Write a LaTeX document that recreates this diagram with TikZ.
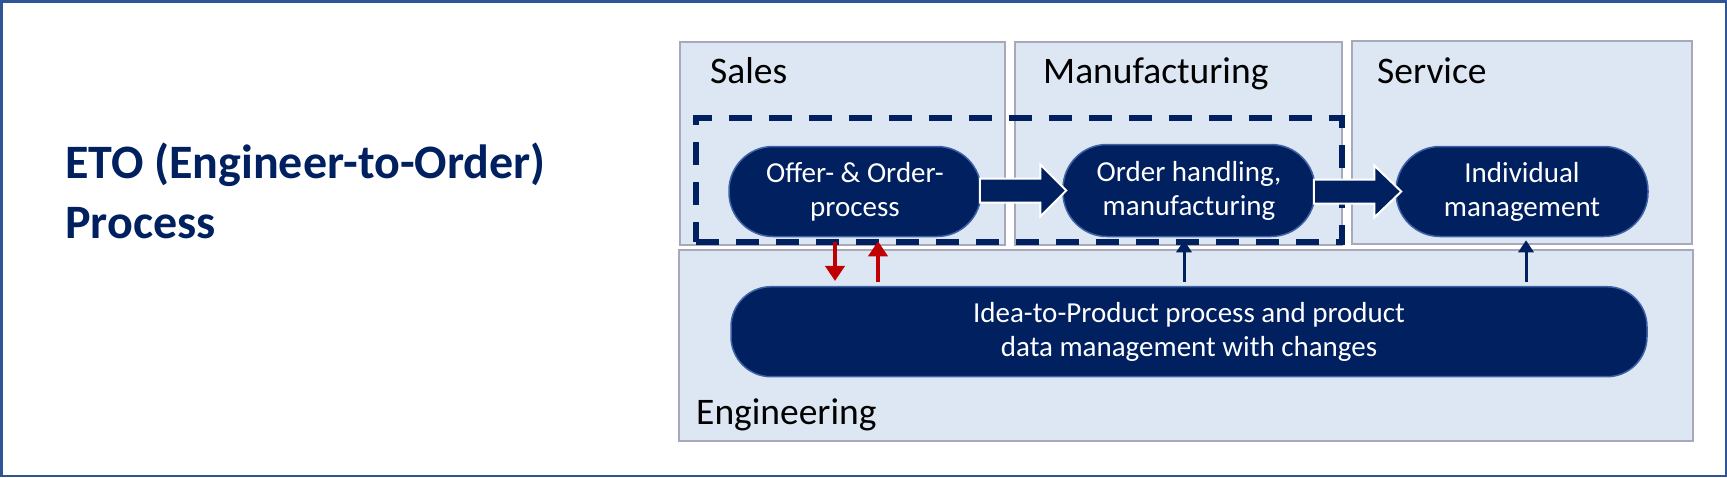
\documentclass[tikz,border=0pt]{standalone}
\usepackage{fontspec}
\setmainfont{Carlito}
\usepackage{tikz}
\usetikzlibrary{arrows.meta}
\usetikzlibrary{calc}
\definecolor{navy}{HTML}{002060}
\definecolor{framecol}{HTML}{2F5597}
\definecolor{lanefill}{HTML}{DDE7F4}
\definecolor{lanegray}{HTML}{A8A8BC}
\definecolor{rimblue}{HTML}{3F62A6}
\definecolor{redarr}{HTML}{C00000}
\begin{document}
\begin{tikzpicture}[x=1pt,y=1pt,
  lane/.style={draw=lanegray,line width=2pt,fill=lanefill,minimum height=203,inner sep=0},
  lanelabel/.style={font=\fontsize{37.5}{44}\selectfont,anchor=base west,inner sep=0},
  proc/.style={draw=rimblue,line width=1.5pt,fill=navy,text=white,rounded corners=44,minimum width=252,minimum height=90,align=center,font=\fontsize{29}{34}\selectfont,inner sep=0},
  dashbox/.style={draw=navy,line width=6pt,dash pattern=on 23pt off 17pt,minimum width=646,minimum height=124,inner sep=0},
  bigarrow/.style={fill=navy,draw=white,line width=2pt},
  feed/.style={draw=navy,line width=3pt,-{Triangle[length=12pt,width=15pt]}},
  redfeed/.style={draw=redarr,line width=4pt,-{Triangle[length=15pt,width=19pt]}}]
  \useasboundingbox (0,0) rectangle (1727,-477);
  \draw[framecol,line width=2.5pt] (1.25,-1.25) rectangle (1725.75,-475.75);

  \node (title) [anchor=base west,align=left,inner sep=0,text=navy,font=\bfseries\fontsize{48}{60}\selectfont] at (65,-238) {ETO (Engineer-to-Order)\\Process};

  \node (sales) [lane,minimum width=325] at (842.5,-143.5) {};
  \node (manu) [lane,minimum width=327] at (1178.5,-143.5) {};
  \node (serv) [lane,minimum width=340] at (1522,-142.5) {};
  \node (eng) [lane,minimum width=1014,minimum height=191] at (1186,-345.5) {};
  \node (salesl) [lanelabel] at ($(sales.north west)+(31,-42)$) {Sales};
  \node (manul) [lanelabel] at ($(manu.north west)+(29,-42)$) {Manufacturing};
  \node (servl) [lanelabel] at ($(serv.north west)+(26,-43)$) {Service};
  \node (engl) [lanelabel] at ($(eng.south west)+(18,18)$) {Engineering};

  \node (eto) [dashbox] at (1019,-180) {};

  \node (offer) [proc] at (855,-191.5) {Offer- \& Order-\\process};
  \node (order) [proc,minimum height=92] at (1189,-190.5) {Order handling,\\manufacturing};
  \node (indiv) [proc] at (1522,-191.5) {Individual\\management};
  \node (idea) [proc,minimum width=916,rounded corners=40] at (1189,-331.7) {Idea-to-Product process and product\\data management with changes};

  \draw[bigarrow] ($(offer.east |- order.west)+(-2,12)$) -- ($(order.west)+(-22,12)$) -- ($(order.west)+(-22,26)$) -- ($(order.west)+(4,0)$) -- ($(order.west)+(-22,-26)$) -- ($(order.west)+(-22,-12)$) -- ($(offer.east |- order.west)+(-2,-12)$) -- cycle;
  \draw[bigarrow] ($(order.east |- indiv.west)+(-2,12)$) -- ($(indiv.west)+(-21,12)$) -- ($(indiv.west)+(-21,26)$) -- ($(indiv.west)+(6,0)$) -- ($(indiv.west)+(-21,-26)$) -- ($(indiv.west)+(-21,-12)$) -- ($(order.east |- indiv.west)+(-2,-12)$) -- cycle;

  \draw[redfeed] ([xshift=-20]offer.south) -- ([xshift=-20]offer.south |- idea.north) [shorten <=5pt,shorten >=5pt];
  \draw[redfeed] ([xshift=23]offer.south |- idea.north) -- ([xshift=23]offer.south) [shorten <=4pt,shorten >=4pt];
  \draw[feed] ([xshift=-5]order.south |- idea.north) -- ([xshift=-5]order.south) [shorten <=4pt,shorten >=3pt];
  \draw[feed] ([xshift=4]indiv.south |- idea.north) -- ([xshift=4]indiv.south) [shorten <=4pt,shorten >=3pt];
\end{tikzpicture}
\end{document}
